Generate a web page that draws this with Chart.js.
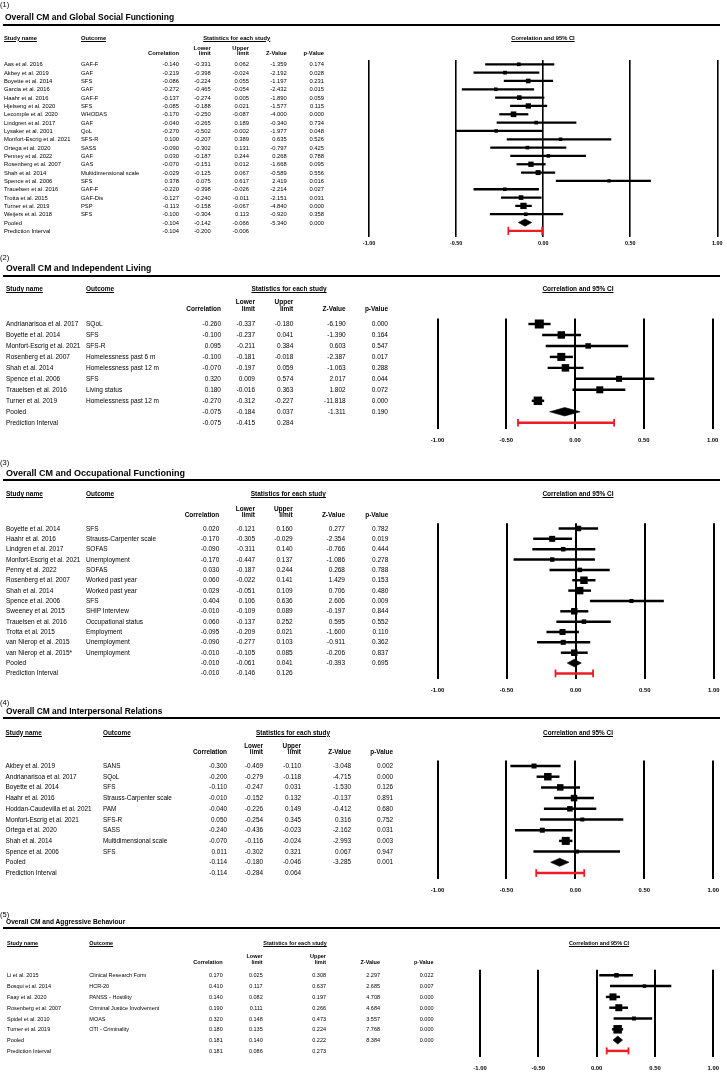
<!DOCTYPE html>
<html lang="en">
<head>
<meta charset="utf-8">
<title>Overall CM forest plots</title>
<script src="https://cdn.jsdelivr.net/npm/chart.js@4.4.1/dist/chart.umd.min.js"></script>
<style>
  html, body { margin:0; padding:0; background:#fff; }
  #page { position:relative; width:727px; height:1074px; overflow:hidden; background:#fff;
          font-family:"Liberation Sans", Arial, Helvetica, sans-serif; color:#000; }
  #page canvas { position:absolute; left:0; top:0; }
  .t { position:absolute; white-space:nowrap; line-height:0; height:0; }
  .r { transform:translateX(-100%); }
  .c { transform:translateX(-50%); }
  .b { font-weight:bold; }
  .u { text-decoration:underline; }
  .rule { position:absolute; background:#000; }
</style>
</head>
<body>
<div id="page"></div>
<script>
// ---------------- DATA ----------------
const xTicks = [-1, -0.5, 0, 0.5, 1];

// Panel 1
const p1Title = 'Overall CM and Global Social Functioning';
const p1Studies = ['Aas et al. 2016','Akbey et al. 2019','Boyette et al. 2014','Garcia et al. 2016','Haahr et al. 2016','Hjelseng et al. 2020','Lecomple et al. 2020','Lindgren et al. 2017','Lysaker et al. 2001','Monfort-Escrig et al. 2021','Ortega et al. 2020','Penney et al. 2022','Rosenberg et al. 2007','Shah et al. 2014','Spence et al. 2006','Trauelsen et al. 2016','Trotta et al. 2015','Turner et al. 2019','Weijers et al. 2018'];
const p1Outcomes = ['GAF-F','GAF','SFS','GAF','GAF-F','SFS','WHODAS','GAF','QoL','SFS-R','SASS','GAF','GAS','Multidimensional scale','SFS','GAF-F','GAF-Dis','PSP','SFS'];
const p1Corr  = [-0.140,-0.219,-0.086,-0.272,-0.137,-0.085,-0.170,-0.040,-0.270,0.100,-0.090,0.030,-0.070,-0.029,0.378,-0.220,-0.127,-0.113,-0.100];
const p1Lower = [-0.331,-0.398,-0.224,-0.465,-0.274,-0.188,-0.250,-0.265,-0.502,-0.207,-0.302,-0.187,-0.151,-0.125,0.075,-0.398,-0.240,-0.158,-0.304];
const p1Upper = [0.062,-0.024,0.055,-0.054,0.005,0.021,-0.087,0.189,-0.002,0.389,0.131,0.244,0.012,0.067,0.617,-0.026,-0.011,-0.067,0.113];
const p1Z = [-1.359,-2.192,-1.197,-2.432,-1.890,-1.577,-4.000,-0.340,-1.977,0.635,-0.797,0.268,-1.668,-0.589,2.419,-2.214,-2.151,-4.840,-0.920];
const p1P = [0.174,0.028,0.231,0.015,0.059,0.115,0.000,0.734,0.048,0.526,0.425,0.788,0.095,0.556,0.016,0.027,0.031,0.000,0.358];
const p1Weight = [3.8,3.8,6.0,3.6,6.0,7.8,8.9,3.8,3.4,3.4,3.6,3.6,7.8,6.9,3.0,3.6,6.0,11.0,3.6];
const p1Pooled = [-0.104,-0.142,-0.066,-5.340,0.000];
const p1Pred = [-0.104,-0.200,-0.006];

// Panel 2
const p2Title = 'Overall CM and Independent Living';
const p2Studies = ['Andrianarisoa et al. 2017','Boyette et al. 2014','Monfort-Escrig et al. 2021','Rosenberg et al. 2007','Shah et al. 2014','Spence et al. 2006','Trauelsen et al. 2016','Turner et al. 2019'];
const p2Outcomes = ['SQoL','SFS','SFS-R','Homelessness past 6 m','Homelessness past 12 m','SFS','Living status','Homelessness past 12 m'];
const p2Corr  = [-0.260,-0.100,0.095,-0.100,-0.070,0.320,0.180,-0.270];
const p2Lower = [-0.337,-0.237,-0.211,-0.181,-0.197,0.009,-0.016,-0.312];
const p2Upper = [-0.180,0.041,0.384,-0.018,0.059,0.574,0.363,-0.227];
const p2Z = [-6.190,-1.390,0.603,-2.387,-1.063,2.017,1.802,-11.818];
const p2P = [0.000,0.164,0.547,0.017,0.288,0.044,0.072,0.000];
const p2Weight = [18.2,12.6,6.8,14.4,12.6,8.1,11.0,16.2];
const p2Pooled = [-0.075,-0.184,0.037,-1.311,0.190];
const p2Pred = [-0.075,-0.415,0.284];

// Panel 3
const p3Title = 'Overall CM and Occupational Functioning';
const p3Studies = ['Boyette et al. 2014','Haahr et al. 2016','Lindgren et al. 2017','Monfort-Escrig et al. 2021','Penny et al. 2022','Rosenberg et al. 2007','Shah et al. 2014','Spence et al. 2006','Sweeney et al. 2015','Trauelsen et al. 2016','Trotta et al. 2015','van Nierop et al. 2015','van Nierop et al. 2015*'];
const p3Outcomes = ['SFS','Strauss-Carpenter scale','SOFAS','Unemployment','SOFAS','Worked past year','Worked past year','SFS','SHIP Interview','Occupational status','Employment','Unemployment','Unemployment'];
const p3Corr  = [0.020,-0.170,-0.090,-0.170,0.030,0.060,0.029,0.404,-0.010,0.060,-0.095,-0.090,-0.010];
const p3Lower = [-0.121,-0.305,-0.311,-0.447,-0.187,-0.022,-0.051,0.106,-0.109,-0.137,-0.209,-0.277,-0.105];
const p3Upper = [0.160,-0.029,0.140,0.137,0.244,0.141,0.109,0.636,0.089,0.252,0.021,0.103,0.085];
const p3Z = [0.277,-2.354,-0.766,-1.086,0.268,1.429,0.706,2.606,-0.197,0.595,-1.600,-0.911,-0.206];
const p3P = [0.782,0.019,0.444,0.278,0.788,0.153,0.480,0.009,0.844,0.552,0.110,0.362,0.837];
const p3Weight = [7.1,8.5,4.8,4.8,4.8,13.2,13.2,3.8,9.9,4.8,8.5,5.9,9.9];
const p3Pooled = [-0.010,-0.061,0.041,-0.393,0.695];
const p3Pred = [-0.010,-0.146,0.126];

// Panel 4
const p4Title = 'Overall CM and Interpersonal Relations';
const p4Studies = ['Akbey et al. 2019','Andrianarisoa et al. 2017','Boyette et al. 2014','Haahr et al. 2016','Hoddan-Caudevilla et al. 2021','Monfort-Escrig et al. 2021','Ortega et al. 2020','Shah et al. 2014','Spence et al. 2006'];
const p4Outcomes = ['SANS','SQoL','SFS','Strauss-Carpenter scale','PAM','SFS-R','SASS','Multidimensional scale','SFS'];
const p4Corr  = [-0.300,-0.200,-0.110,-0.010,-0.040,0.050,-0.240,-0.070,0.011];
const p4Lower = [-0.469,-0.279,-0.247,-0.152,-0.226,-0.254,-0.436,-0.116,-0.302];
const p4Upper = [-0.110,-0.118,0.031,0.132,0.149,0.345,-0.023,-0.024,0.321];
const p4Z = [-3.048,-4.715,-1.530,-0.137,-0.412,0.316,-2.162,-2.993,0.067];
const p4P = [0.002,0.000,0.126,0.891,0.680,0.752,0.031,0.003,0.947];
const p4Weight = [7.9,17.7,13.3,13.3,9.5,5.0,7.9,20.2,5.0];
const p4Pooled = [-0.114,-0.180,-0.046,-3.285,0.001];
const p4Pred = [-0.114,-0.284,0.064];

// Panel 5
const p5Title = 'Overall CM and Aggressive Behaviour';
const p5Studies = [' Li et al. 2015','Bosqui et al. 2014','Faay et al. 2020','Rosenberg et al. 2007','Spidel et al. 2010','Turner et al. 2019'];
const p5Outcomes = ['Clinical Research Form','HCR-20','PANSS - Hostility','Criminal Justice Involvement','MOAS','OTI - Criminality'];
const p5Corr  = [0.170,0.410,0.140,0.190,0.320,0.180];
const p5Lower = [0.025,0.117,0.082,0.111,0.148,0.135];
const p5Upper = [0.308,0.637,0.197,0.266,0.473,0.224];
const p5Z = [2.297,2.685,4.708,4.684,3.557,7.768];
const p5P = [0.022,0.007,0.000,0.000,0.000,0.000];
const p5Weight = [9.3,5.6,22.4,22.4,7.3,33.0];
const p5Pooled = [0.181,0.140,0.222,8.384,0.000];
const p5Pred = [0.181,0.086,0.273];

// ---------------- LAYOUT / STYLE ----------------
const RED = '#ee1c24';
const panels = [
  { d:{title:p1Title, studies:p1Studies, outcomes:p1Outcomes, corr:p1Corr, lower:p1Lower, upper:p1Upper, z:p1Z, p:p1P, weight:p1Weight, pooled:p1Pooled, pred:p1Pred},
    L:{num:'(1)', numY:5, titleX:5, titleY:16.7, titleFs:8.5, ruleY:25, ruleH:1.8, headY:37.7, lowY:47.7, limY:53.3, fs:5.8,
       cols:[4,81,179,210.7,249,286.7,324], statsX:236.7, ciX:543,
       xL:369, xR:717.3, top:60, bot:237, row0:64.3, step:8.33, labelY:244, tickFs:5.4,
       ciW:1.6, refW:1.6, sq:1.9, diaH:3.6, capH:8.3, predW:1.7} },
  { d:{title:p2Title, studies:p2Studies, outcomes:p2Outcomes, corr:p2Corr, lower:p2Lower, upper:p2Upper, z:p2Z, p:p2P, weight:p2Weight, pooled:p2Pooled, pred:p2Pred},
    L:{num:'(2)', numY:258, titleX:6, titleY:268.3, titleFs:8.7, ruleY:275.5, ruleH:2, headY:289.3, lowY:302.3, limY:309.3, fs:6.5,
       cols:[6,86,221,255,293.3,345.7,388], statsX:289, ciX:578,
       xL:437.5, xR:719.5, top:318.5, bot:428.5, row0:324, step:10.97, labelY:440.7, tickFs:5.9,
       ciW:1.8, refW:2, sq:2.11, diaH:4.2, capH:7.7, predW:1.8} },
  { d:{title:p3Title, studies:p3Studies, outcomes:p3Outcomes, corr:p3Corr, lower:p3Lower, upper:p3Upper, z:p3Z, p:p3P, weight:p3Weight, pooled:p3Pooled, pred:p3Pred},
    L:{num:'(3)', numY:463, titleX:6, titleY:473, titleFs:9, ruleY:480, ruleH:2, headY:494, lowY:508.5, limY:514.5, fs:6.5,
       cols:[6,86,219.3,255,292.7,345,388.3], statsX:288.3, ciX:578,
       xL:437.5, xR:719.5, top:523.3, bot:679, row0:528.5, step:10.35, labelY:690, tickFs:5.9,
       ciW:1.8, refW:2, sq:2.06, diaH:3.8, capH:7.7, predW:1.8} },
  { d:{title:p4Title, studies:p4Studies, outcomes:p4Outcomes, corr:p4Corr, lower:p4Lower, upper:p4Upper, z:p4Z, p:p4P, weight:p4Weight, pooled:p4Pooled, pred:p4Pred},
    L:{num:'(4)', numY:703, titleX:6, titleY:711, titleFs:8.4, ruleY:718, ruleH:2, headY:732.5, lowY:746, limY:752, fs:6.4,
       cols:[5.6,103,227,263,301,351,393], statsX:293, ciX:578,
       xL:437.5, xR:719.5, top:760.5, bot:878.5, row0:766, step:10.7, labelY:890, tickFs:5.9,
       ciW:1.8, refW:2, sq:1.78, diaH:4, capH:7.7, predW:1.8} },
  { d:{title:p5Title, studies:p5Studies, outcomes:p5Outcomes, corr:p5Corr, lower:p5Lower, upper:p5Upper, z:p5Z, p:p5P, weight:p5Weight, pooled:p5Pooled, pred:p5Pred},
    L:{num:'(5)', numY:915, titleX:6, titleY:921.7, titleFs:6.6, ruleY:928.3, ruleH:2, headY:943.3, lowY:956, limY:961.5, fs:5.5,
       cols:[7,89.3,222.7,262.7,326,380,433.5], statsX:295, ciX:599,
       xL:480, xR:718.6, top:969.8, bot:1056.5, row0:975.3, step:10.8, labelY:1068, tickFs:5.9,
       ciW:1.8, refW:2, sq:1.48, diaH:4, capH:7, predW:1.8} }
];

// ---------------- BUILD ----------------
const page = document.getElementById('page');
const W = 727, H = 1074;
const FONT = '"Liberation Sans", Arial, Helvetica, sans-serif';

function addText(s, x, y, fs, cls) {
  const e = document.createElement('div');
  e.className = 't ' + (cls || '');
  e.textContent = s;
  e.style.left = x + 'px';
  e.style.top = y + 'px';
  e.style.fontSize = fs + 'px';
  page.appendChild(e);
  return e;
}
const f3 = v => v.toFixed(3);

function buildPanel(d, L) {
  const cv = document.createElement('canvas');
  cv.width = W; cv.height = H;
  cv.style.width = W + 'px'; cv.style.height = H + 'px';
  page.appendChild(cv);

  const n = d.studies.length;
  const pooledRow = n, predRow = n + 1;
  const yMin = (L.top - L.row0) / L.step;
  const yMax = yMin + (L.bot - L.top) / L.step;
  const tickPad = L.labelY - L.bot - 0.6 * L.tickFs;
  const axisH = tickPad + L.tickFs * 1.2 + 2;
  const radius = d.weight.map(w => L.sq * Math.sqrt(w) / Math.SQRT2);
  const hh = L.diaH / L.step;

  const chart = new Chart(cv, {
    type: 'scatter',
    data: {
      datasets: [
        { label: 'Study estimate', data: d.corr.map((v, i) => ({x: v, y: i})),
          pointStyle: 'rect', pointRadius: radius, backgroundColor: '#000', borderWidth: 0, clip: false },
        { label: 'Pooled', data: [
            {x: d.pooled[1], y: pooledRow}, {x: d.pooled[0], y: pooledRow - hh},
            {x: d.pooled[2], y: pooledRow}, {x: d.pooled[0], y: pooledRow + hh},
            {x: d.pooled[1], y: pooledRow}],
          showLine: true, fill: 'shape', tension: 0, pointRadius: 0,
          borderColor: '#000', backgroundColor: '#000', borderWidth: 0.6, clip: false },
        { label: 'Prediction caps', data: [{x: d.pred[1], y: predRow}, {x: d.pred[2], y: predRow}],
          pointStyle: 'line', rotation: 90, pointRadius: L.capH / 2, borderColor: RED, borderWidth: L.predW, clip: false },
        { type: 'bar', label: 'Prediction interval', indexAxis: 'y', grouped: false,
          data: [{x: [d.pred[1], d.pred[2]], y: predRow}],
          backgroundColor: RED, barThickness: L.predW, borderWidth: 0, clip: false },
        { type: 'bar', label: '95% CI', indexAxis: 'y', grouped: false,
          data: d.lower.map((v, i) => ({x: [v, d.upper[i]], y: i})),
          backgroundColor: '#000', barThickness: L.ciW, borderWidth: 0, clip: false }
      ]
    },
    options: {
      responsive: false, maintainAspectRatio: false, animation: false, devicePixelRatio: 1,
      events: [],
      layout: { padding: { left: L.xL, right: W - L.xR, top: L.top, bottom: H - L.bot - axisH } },
      plugins: { legend: { display: false }, tooltip: { enabled: false }, title: { display: false } },
      scales: {
        x: {
          type: 'linear', position: 'bottom', min: -1, max: 1,
          grid: { color: '#000', lineWidth: L.refW, drawTicks: false, offset: false },
          border: { display: false },
          afterBuildTicks: s => { s.ticks = xTicks.map(v => ({value: v})); },
          afterFit: s => { s.height = axisH; },
          ticks: { autoSkip: false, maxRotation: 0, minRotation: 0, padding: tickPad, color: '#000',
                   font: { family: FONT, size: L.tickFs, weight: 'bold' },
                   callback: v => Number(v).toFixed(2) }
        },
        y: {
          type: 'linear', display: false, reverse: true, min: yMin, max: yMax,
          offset: false, grid: { offset: false }
        }
      }
    }
  });

  // ---- text (HTML) ----
  const ys = i => chart.scales.y.getPixelForValue(i);
  addText(L.num, 0, L.numY, 7.5, '');
  addText(d.title, L.titleX, L.titleY, L.titleFs, 'b');
  const rule = document.createElement('div');
  rule.className = 'rule';
  rule.style.left = '3px'; rule.style.width = '717px';
  rule.style.top = (L.ruleY - L.ruleH / 2) + 'px'; rule.style.height = L.ruleH + 'px';
  page.appendChild(rule);

  const c = L.cols, fs = L.fs;
  addText('Study name', c[0], L.headY, fs, 'b u');
  addText('Outcome', c[1], L.headY, fs, 'b u');
  addText('Statistics for each study', L.statsX, L.headY, fs, 'b u c');
  addText('Correlation and 95% CI', L.ciX, L.headY, fs, 'b u c');
  addText('Lower', c[3], L.lowY, fs, 'b r');
  addText('limit', c[3], L.limY, fs, 'b r');
  addText('Upper', c[4], L.lowY, fs, 'b r');
  addText('limit', c[4], L.limY, fs, 'b r');
  addText('Correlation', c[2], L.limY, fs, 'b r');
  addText('Z-Value', c[5], L.limY, fs, 'b r');
  addText('p-Value', c[6], L.limY, fs, 'b r');

  for (let i = 0; i < n; i++) {
    const y = ys(i);
    addText(d.studies[i], c[0], y, fs, '');
    addText(d.outcomes[i], c[1], y, fs, '');
    addText(f3(d.corr[i]), c[2], y, fs, 'r');
    addText(f3(d.lower[i]), c[3], y, fs, 'r');
    addText(f3(d.upper[i]), c[4], y, fs, 'r');
    addText(f3(d.z[i]), c[5], y, fs, 'r');
    addText(f3(d.p[i]), c[6], y, fs, 'r');
  }
  const yp = ys(pooledRow);
  addText('Pooled', c[0], yp, fs, '');
  d.pooled.forEach((v, k) => addText(f3(v), c[2 + k], yp, fs, 'r'));
  const yq = ys(predRow);
  addText('Prediction Interval', c[0], yq, fs, '');
  d.pred.forEach((v, k) => addText(f3(v), c[2 + k], yq, fs, 'r'));
}

panels.forEach(p => buildPanel(p.d, p.L));
</script>
</body>
</html>
